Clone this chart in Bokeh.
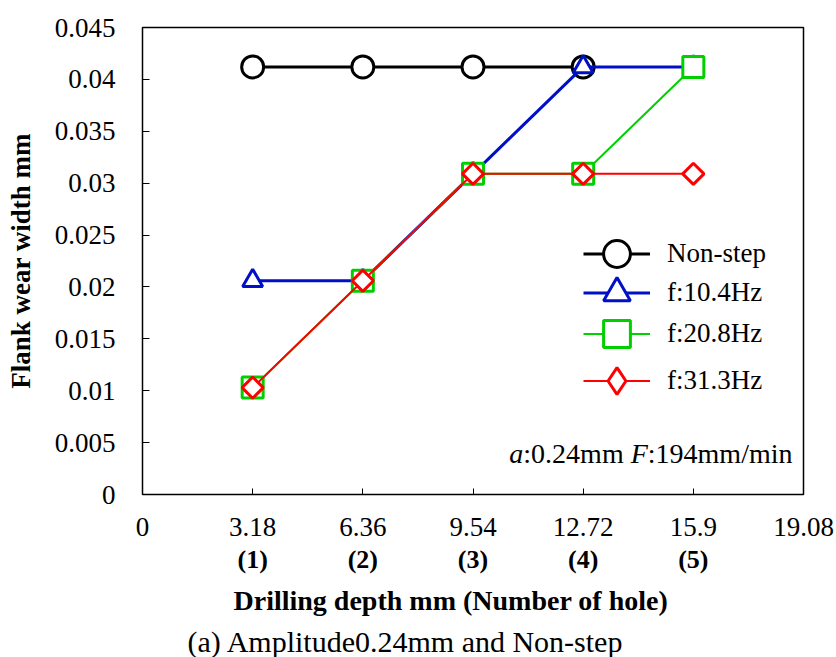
import math
from bokeh.plotting import figure
from bokeh.models import (FixedTicker, LinearAxis, Legend, LegendItem, Label, Range1d, Title)
from bokeh.embed import file_html
from bokeh.resources import INLINE

# ---- data ----
depth = [3.18, 6.36, 9.54, 12.72, 15.9]
non_step = [0.0412, 0.0412, 0.0412, 0.0412]
f_104 = [0.0206, 0.0206, 0.0309, 0.0412, 0.0412]
f_208 = [0.0103, 0.0206, 0.0309, 0.0309, 0.0412]
f_313 = [0.0103, 0.0206, 0.0309, 0.0309, 0.0309]

x_ticks = [0, 3.18, 6.36, 9.54, 12.72, 15.9, 19.08]
x_tick_labels = ["0", "3.18", "6.36", "9.54", "12.72", "15.9", "19.08"]
hole_ticks = [3.18, 6.36, 9.54, 12.72, 15.9]
hole_labels = ["(1)", "(2)", "(3)", "(4)", "(5)"]
y_ticks = [0, 0.005, 0.01, 0.015, 0.02, 0.025, 0.03, 0.035, 0.04, 0.045]
y_tick_labels = ["0", "0.005", "0.01", "0.015", "0.02", "0.025", "0.03", "0.035", "0.04", "0.045"]

series_labels = ["Non-step", "f:10.4Hz", "f:20.8Hz", "f:31.3Hz"]
y_title = "Flank wear width mm"
x_title = "Drilling depth mm (Number of hole)"
caption = "(a) Amplitude0.24mm  and Non-step"

FONT = "Liberation Serif"
BLACK, BLUE, GREEN, RED = "black", "#0010c8", "#00d000", "#ff0000"

p = figure(width=836, height=657, output_backend="svg", toolbar_location=None,
           x_range=Range1d(0, 19.08), y_range=Range1d(0, 0.045),
           min_border_left=142, min_border_right=33, min_border_top=27,
           min_border_bottom=163)
p.grid.visible = False
p.outline_line_color = "black"
p.outline_line_width = 1.5
p.background_fill_color = "white"
p.border_fill_color = "white"

# x axis (depth)
xa = p.xaxis[0]
xa.ticker = FixedTicker(ticks=x_ticks)
xa.major_label_overrides = {t: l for t, l in zip(x_ticks, x_tick_labels)}
xa.major_tick_in = 6
xa.major_tick_out = 0
xa.minor_tick_line_color = None
xa.major_label_text_font = FONT
xa.major_label_text_font_size = "27px"
xa.major_label_text_color = "black"
xa.major_label_standoff = 23
xa.axis_line_color = "black"
xa.major_tick_line_color = "black"

# second row (hole number)
xa2 = LinearAxis(ticker=FixedTicker(ticks=hole_ticks))
xa2.major_label_overrides = {t: l for t, l in zip(hole_ticks, hole_labels)}
xa2.axis_line_color = None
xa2.major_tick_line_color = None
xa2.minor_tick_line_color = None
xa2.major_tick_in = 0
xa2.major_tick_out = 0
xa2.major_label_text_font = FONT
xa2.major_label_text_font_size = "26px"
xa2.major_label_text_font_style = "bold"
xa2.major_label_text_color = "black"
xa2.major_label_standoff = 6
p.add_layout(xa2, "below")

t1 = Title(text=x_title, align="left", offset=91, text_font=FONT,
           text_font_size="28px", text_font_style="bold", text_color="black", standoff=13)
p.add_layout(t1, "below")
t2 = Title(text=caption, align="left", offset=45, text_font=FONT,
           text_font_size="30px", text_font_style="normal", text_color="black", standoff=0)
p.add_layout(t2, "below")

# y axis
ya = p.yaxis[0]
ya.ticker = FixedTicker(ticks=y_ticks)
ya.major_label_overrides = {t: l for t, l in zip(y_ticks, y_tick_labels)}
ya.major_tick_in = 7
ya.major_tick_out = 0
ya.minor_tick_line_color = None
ya.major_label_text_font = FONT
ya.major_label_text_font_size = "27px"
ya.major_label_text_color = "black"
ya.major_label_standoff = 27
ya.axis_line_color = "black"
ya.major_tick_line_color = "black"
ya.axis_label = y_title
ya.axis_label_text_font = FONT
ya.axis_label_text_font_size = "27px"
ya.axis_label_text_font_style = "bold"
ya.axis_label_text_color = "black"
ya.axis_label_standoff = 16

# series
ns_l = p.line(depth[:len(non_step)], non_step, line_color=BLACK, line_width=3)
ns_m = p.scatter(depth[:len(non_step)], non_step, marker="circle", size=22,
                 line_color=BLACK, line_width=3, fill_color="white")
b_l = p.line(depth, f_104, line_color=BLUE, line_width=3)
b_m = p.scatter(depth, f_104, marker="triangle", size=20,
                line_color=BLUE, line_width=3, fill_color="white")
g_l = p.line(depth, f_208, line_color=GREEN, line_width=2)
g_m = p.scatter(depth, f_208, marker="square", size=21,
                line_color=GREEN, line_width=3, fill_color="white")
r_l = p.line(depth, f_313, line_color=RED, line_width=2)
# diamond used as the legend key (legend keys ignore marker angle); it sits
# hidden under the rotated-square markers drawn next
r_key = p.scatter(depth, f_313, marker="diamond", size=14,
                  line_color=RED, line_width=3, fill_color="white")
r_m = p.scatter(depth, f_313, marker="square", angle=math.pi / 4, size=15,
                line_color=RED, line_width=3, fill_color="white")

# legend: one entry per Legend so rows can be spaced like the original
rows = [(series_labels[0], [ns_l, ns_m], 207),
        (series_labels[1], [b_l, b_m], 168),
        (series_labels[2], [g_l, g_m], 127),
        (series_labels[3], [r_l, r_key], 80)]
for lab, rends, ybot in rows:
    lg = Legend(items=[LegendItem(label=lab, renderers=rends)], location=(441, ybot))
    lg.glyph_width = 67
    lg.glyph_height = 67
    lg.padding = 0
    lg.margin = 0
    lg.label_standoff = 17
    lg.label_text_font = FONT
    lg.label_text_font_size = "27px"
    lg.label_text_color = "black"
    lg.border_line_color = None
    lg.background_fill_alpha = 0
    p.add_layout(lg, "center")

# annotation with italic symbols
fs = 28
segs = [("a", "italic", 0.5), (":0.24mm ", "normal", 3.834),
        ("F", "italic", 0.611), (":194mm/min", "normal", 5.168)]
right = 650.0
total = sum(w for _, _, w in segs) * fs
xpos = right - total
for txt, style, w in segs:
    p.add_layout(Label(x=xpos, y=41, x_units="screen", y_units="screen", text=txt,
                       text_font=FONT, text_font_size=f"{fs}px", text_font_style=style,
                       text_baseline="middle", text_align="left", text_color="black"))
    xpos += w * fs

open("out.html", "w").write(file_html(p, INLINE))
